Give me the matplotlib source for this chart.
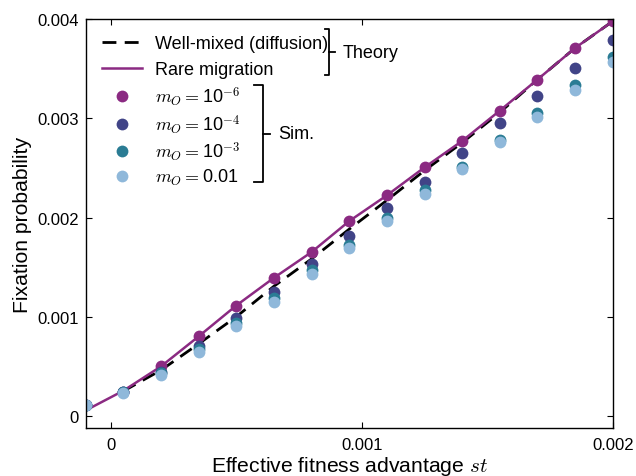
import matplotlib
matplotlib.use("Agg")
import numpy as np
import matplotlib.pyplot as plt
from matplotlib.lines import Line2D

plt.rcParams['font.family'] = ['Liberation Sans', 'DejaVu Sans']
plt.rcParams['mathtext.fontset'] = 'cm'

# Effective fitness advantage st
st = [-0.0001, 0.00005, 0.0002, 0.00035, 0.0005, 0.00065, 0.0008, 0.00095,
      0.0011, 0.00125, 0.0014, 0.00155, 0.0017, 0.00185, 0.002]

# Theory curves (fixation probability, units of 1e-3); diffusion curve drawn for st > 0
well_mixed = [np.nan, 0.254, 0.465, 0.73, 1.003, 1.31, 1.585, 1.885,
              2.175, 2.475, 2.755, 3.06, 3.391, 3.709, 3.978]
rare_migration = [0.06, 0.258, 0.503, 0.805, 1.116, 1.395, 1.654, 1.966,
                  2.225, 2.507, 2.773, 3.078, 3.391, 3.709, 3.978]

# Simulation results (units of 1e-3)
sim_m1e6 = [0.11, 0.25, 0.503, 0.805, 1.116, 1.395, 1.654, 1.966,
            2.225, 2.507, 2.773, 3.078, 3.391, 3.709, 3.978]
sim_m1e4 = [0.11, 0.245, 0.447, 0.708, 0.99, 1.25, 1.533, 1.815,
            2.097, 2.358, 2.650, 2.952, 3.229, 3.508, 3.793]
sim_m1e3 = [0.11, 0.245, 0.433, 0.68, 0.945, 1.19, 1.47, 1.727,
            2.00, 2.282, 2.509, 2.784, 3.055, 3.340, 3.622]
sim_m1e2 = [0.11, 0.24, 0.42, 0.652, 0.905, 1.155, 1.435, 1.697,
            1.97, 2.235, 2.492, 2.764, 3.012, 3.287, 3.571]

sim_labels = [r"$m_O=$10$^{-6}$", r"$m_O=$10$^{-4}$",
              r"$m_O=$10$^{-3}$", r"$m_O=$0.01"]
sim_colors = ['#8b2a82', '#414487', '#2a7c94', '#8fb8da']

xticks = [0, 0.001, 0.002]
xticklabels = ['0', '0.001', '0.002']
yticks = [0, 0.001, 0.002, 0.003, 0.004]
yticklabels = ['0', '0.001', '0.002', '0.003', '0.004']

fig = plt.figure(figsize=(6.36, 4.77), dpi=100)
ax = fig.add_axes([0.1347, 0.1, 0.8288, 0.858])

scale = 1e-3
theory_handles = []
h, = ax.plot(st, [v * scale for v in well_mixed], color='black', lw=2.0,
             dashes=(5, 3), label='Well-mixed (diffusion)')
theory_handles.append(h)
h, = ax.plot(st, [v * scale for v in rare_migration], color='#8b2a82', lw=1.8,
             label='Rare migration')
theory_handles.append(h)
sim_handles = []
for vals, col, lab in zip([sim_m1e6, sim_m1e4, sim_m1e3, sim_m1e2],
                          sim_colors, sim_labels):
    h, = ax.plot(st, [v * scale for v in vals], 'o', color=col, ms=8.5,
                 mec='none', label=lab)
    sim_handles.append(h)

ax.set_xlim(-0.0001, 0.002)
ax.set_ylim(-0.00012, 0.004)
ax.set_xticks(xticks)
ax.set_xticklabels(xticklabels)
ax.set_yticks(yticks)
ax.set_yticklabels(yticklabels)
ax.tick_params(direction='in', top=True, right=True, length=4.5,
               labelsize=12)
ax.tick_params(axis='x', pad=6)
ax.tick_params(axis='y', pad=5)
for s in ax.spines.values():
    s.set_linewidth(1.0)

ax.set_xlabel(r"Effective fitness advantage $st$", fontsize=15.2, labelpad=2)
ax.set_ylabel("Fixation probability", fontsize=15.2, labelpad=4)

leg_kw = dict(frameon=False, fontsize=13, handlelength=2.2,
              handletextpad=0.75, numpoints=1)
leg1 = ax.legend(handles=theory_handles, loc='upper left', labelspacing=0.5,
                 borderaxespad=0.5, **leg_kw)
ax.add_artist(leg1)
ax.legend(handles=sim_handles, loc='upper left', labelspacing=0.22,
          bbox_to_anchor=(0.0173, 0.858), borderaxespad=0.0, **leg_kw)

# Group brackets beside the legend entries
def bracket(x, y0, y1, xl, xr, text):
    ym = 0.5 * (y0 + y1)
    kw = dict(color='black', lw=1.3, transform=ax.transAxes, clip_on=False)
    ax.add_line(Line2D([xl, x, x, xl], [y1, y1, y0, y0], **kw))
    ax.add_line(Line2D([x, xr], [ym, ym], **kw))
    ax.text(xr + 0.015, ym, text, transform=ax.transAxes, fontsize=13,
            va='center', ha='left')

bracket(0.4616, 0.8632, 0.9756, 0.454, 0.473, 'Theory')
bracket(0.3358, 0.6018, 0.8388, 0.3193, 0.3496, 'Sim.')

fig.savefig('out.png', dpi=100)
